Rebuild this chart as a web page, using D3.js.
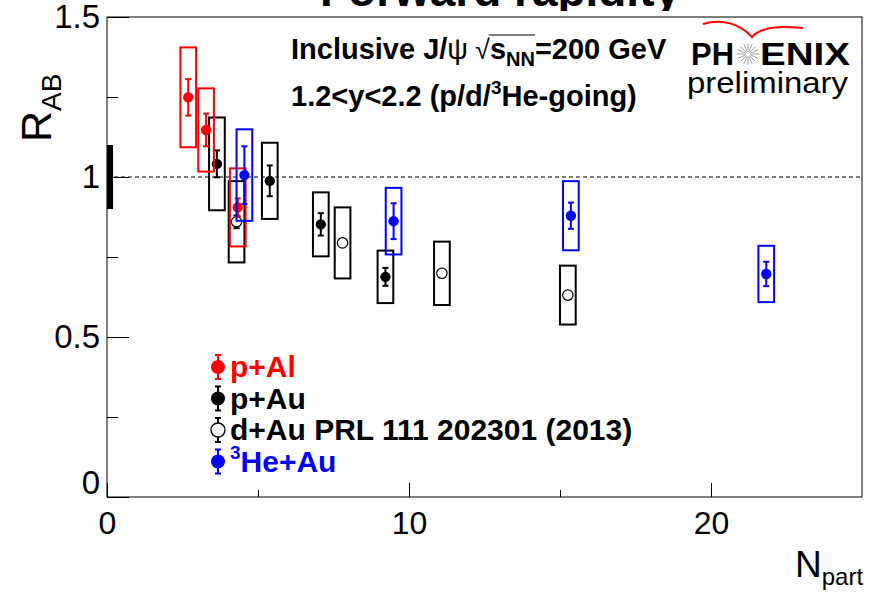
<!DOCTYPE html>
<html>
<head>
<meta charset="utf-8">
<script src="https://cdn.jsdelivr.net/npm/d3@7"></script>
<style>
  body { margin: 0; background: #fff; }
  svg { display: block; }
  text { font-family: "Liberation Sans", Arial, Helvetica, sans-serif; }
</style>
</head>
<body>
<svg id="chart" width="874" height="592"></svg>
<script>
// R_AB vs N_part, forward rapidity J/psi (PHENIX preliminary)

// p+Al
const pAlNpart = [2.69, 3.28, 4.33];
const pAlRab   = [1.249, 1.147, 0.905];
const pAlStat  = [0.057, 0.051, 0.028];
const pAlSys   = [0.156, 0.130, 0.122];

// p+Au
const pAuNpart = [3.64, 5.39, 7.08, 9.22];
const pAuRab   = [1.041, 0.988, 0.852, 0.688];
const pAuStat  = [0.042, 0.048, 0.035, 0.028];
const pAuSys   = [0.145, 0.119, 0.100, 0.082];

// d+Au PRL 111 202301 (2013)
const dAuNpart = [4.29, 7.80, 11.09, 15.26];
const dAuRab   = [0.860, 0.794, 0.699, 0.631];
const dAuStat  = [0.020, 0.010, 0.008, 0.008];
const dAuSys   = [0.127, 0.111, 0.099, 0.092];

// 3He+Au
const heAuNpart = [4.55, 9.49, 15.36, 21.83];
const heAuRab   = [1.006, 0.862, 0.879, 0.697];
const heAuStat  = [0.090, 0.056, 0.041, 0.038];
const heAuSys   = [0.143, 0.104, 0.108, 0.088];

// global uncertainty box at unity
const globalSys = 0.1;

const yMajor = [0, 0.5, 1, 1.5];
const yMinor = [0.25, 0.75, 1.25];
const xMajor = [0, 10, 20];
const xMinor = [5, 15];

const legendNames = ["p+Al", "p+Au", "d+Au PRL 111 202301 (2013)", "He+Au"];

const W = 874, H = 592;
const svg = d3.select("#chart");
svg.append("rect").attr("width", W).attr("height", H).attr("fill", "#fff");

const x = d3.scaleLinear().domain([0, 25]).range([107, 862]);
const y = d3.scaleLinear().domain([0, 1.5]).range([497, 17]);

// title, mostly cut off above the frame
svg.append("clipPath").attr("id", "topclip")
  .append("rect").attr("x", 0).attr("y", 0).attr("width", W).attr("height", 11);
svg.append("text")
  .attr("clip-path", "url(#topclip)")
  .attr("x", 320).attr("y", 6)
  .attr("font-size", 46).attr("font-weight", "bold")
  .attr("textLength", 360).attr("lengthAdjust", "spacingAndGlyphs")
  .text("Forward rapidity");

// axes (ROOT style: ticks point inward)
const gy = svg.append("g").attr("transform", `translate(${x(0)},0)`);
gy.call(d3.axisLeft(y).tickValues(yMajor).tickSize(-22).tickPadding(7)
  .tickFormat(d => d3.format("")(d)));
gy.append("g").call(d3.axisLeft(y).tickValues(yMinor).tickSize(-11).tickFormat(""));
gy.selectAll(".domain").remove();
gy.selectAll("text").attr("font-size", 33).attr("fill", "#000")
  .attr("font-family", "'Liberation Sans', Arial, sans-serif");
gy.selectAll(".tick").filter(d => d === 0).select("text").attr("dy", "-0.12em");
gy.selectAll("line").attr("stroke", "#000");

const gx = svg.append("g").attr("transform", `translate(0,${y(0)})`);
gx.call(d3.axisBottom(x).tickValues(xMajor).tickSize(-14).tickPadding(14));
gx.append("g").call(d3.axisBottom(x).tickValues(xMinor).tickSize(-7).tickFormat(""));
gx.selectAll(".domain").remove();
gx.selectAll("text").attr("font-size", 32).attr("fill", "#000")
  .attr("font-family", "'Liberation Sans', Arial, sans-serif");
gx.selectAll("line").attr("stroke", "#000");

// frame
svg.append("rect")
  .attr("x", x(0)).attr("y", y(1.5))
  .attr("width", x(25) - x(0)).attr("height", y(0) - y(1.5))
  .attr("fill", "none").attr("stroke", "#000").attr("stroke-width", 1);

// unity line
svg.append("line")
  .attr("x1", x(0)).attr("x2", x(25)).attr("y1", y(1)).attr("y2", y(1))
  .attr("stroke", "#000").attr("stroke-width", 1).attr("stroke-dasharray", "4,3");

// global uncertainty
svg.append("rect")
  .attr("x", x(0)).attr("width", x(0.2) - x(0))
  .attr("y", y(1 + globalSys)).attr("height", y(1 - globalSys) - y(1 + globalSys))
  .attr("fill", "#000");

// axis titles
const yt = svg.append("text").attr("transform", "translate(51,142) rotate(-90)");
yt.append("tspan").attr("font-size", 43).text("R");
yt.append("tspan").attr("font-size", 28).attr("dy", 10).text("AB");

const xt = svg.append("text").attr("x", 795).attr("y", 577);
xt.append("tspan").attr("font-size", 37).text("N");
xt.append("tspan").attr("font-size", 24).attr("dy", 8).text("part");

// data
const boxHalf = 0.26;
const plot = svg.append("g");

function drawSeries(npart, rab, stat, sys, color, open) {
  const rows = npart.map((n, i) => ({ n, r: rab[i], st: stat[i], sy: sys[i] }));
  const g = plot.append("g");
  g.selectAll("rect").data(rows).join("rect")
    .attr("x", d => x(d.n - boxHalf))
    .attr("width", d => x(d.n + boxHalf) - x(d.n - boxHalf))
    .attr("y", d => y(d.r + d.sy))
    .attr("height", d => y(d.r - d.sy) - y(d.r + d.sy))
    .attr("fill", "none").attr("stroke", color).attr("stroke-width", 2);
  g.selectAll("line.err").data(rows).join("line").attr("class", "err")
    .attr("x1", d => x(d.n)).attr("x2", d => x(d.n))
    .attr("y1", d => y(d.r + d.st)).attr("y2", d => y(d.r - d.st))
    .attr("stroke", open ? "#000" : color).attr("stroke-width", 2);
  ["hi", "lo"].forEach(k => {
    g.selectAll("line.cap" + k).data(rows).join("line").attr("class", "cap" + k)
      .attr("x1", d => x(d.n) - 3).attr("x2", d => x(d.n) + 3)
      .attr("y1", d => y(k === "hi" ? d.r + d.st : d.r - d.st))
      .attr("y2", d => y(k === "hi" ? d.r + d.st : d.r - d.st))
      .attr("stroke", open ? "#000" : color).attr("stroke-width", 2);
  });
  g.selectAll("circle").data(rows).join("circle")
    .attr("cx", d => x(d.n)).attr("cy", d => y(d.r)).attr("r", 5.2)
    .attr("fill", open ? "#fff" : color)
    .attr("stroke", open ? "#000" : "none").attr("stroke-width", 1.2);
}

drawSeries(dAuNpart, dAuRab, dAuStat, dAuSys, "#000", true);
drawSeries(pAuNpart, pAuRab, pAuStat, pAuSys, "#000", false);
drawSeries(pAlNpart, pAlRab, pAlStat, pAlSys, "#ff0000", false);
drawSeries(heAuNpart, heAuRab, heAuStat, heAuSys, "#0000ff", false);

// sequential text pieces (sub/superscripts)
function rich(parent, x0, y0, parts) {
  let cx = x0;
  const spans = [];
  parts.forEach(p => {
    const t = parent.append("text")
      .attr("x", cx).attr("y", y0 + (p.dy || 0))
      .attr("font-size", p.size).attr("font-weight", p.weight || "bold")
      .attr("fill", p.color || "#000")
      .text(p.t);
    if (p.family) t.attr("font-family", p.family);
    const w = t.node().getComputedTextLength();
    spans.push({ x: cx, w });
    cx += w + (p.gap || 0);
  });
  return spans;
}

const hdr = svg.append("g");
const l1 = rich(hdr, 291, 59, [
  { t: "Inclusive J/", size: 29 },
  { t: "\u03c8", size: 29, weight: "normal", family: "'DejaVu Serif', serif", gap: 7 },
  { t: "\u221a", size: 27, weight: "normal", family: "'DejaVu Sans', sans-serif" },
  { t: "s", size: 29 },
  { t: "NN", size: 20, dy: 7 },
  { t: "=200 GeV", size: 29 }
]);
hdr.append("line")
  .attr("x1", l1[2].x + l1[2].w - 1).attr("x2", l1[4].x + l1[4].w)
  .attr("y1", 35).attr("y2", 35).attr("stroke", "#000").attr("stroke-width", 1);

rich(hdr, 291, 106, [
  { t: "1.2<y<2.2 (p/d/", size: 29 },
  { t: "3", size: 19, dy: -12 },
  { t: "He-going)", size: 29 }
]);

// PHENIX logo
const logo = svg.append("g");
logo.append("text").attr("x", 691).attr("y", 65)
  .attr("font-size", 31).attr("font-weight", "bold")
  .attr("textLength", 43).attr("lengthAdjust", "spacingAndGlyphs").text("PH");
logo.append("text").attr("x", 760).attr("y", 65)
  .attr("font-size", 31).attr("font-weight", "bold")
  .attr("textLength", 90).attr("lengthAdjust", "spacingAndGlyphs").text("ENIX");
const star = logo.append("g").attr("transform", "translate(748,54)");
d3.range(16).forEach(i => {
  const a = i / 16 * Math.PI * 2;
  star.append("line")
    .attr("x1", Math.cos(a) * 2.5).attr("y1", Math.sin(a) * 2.5)
    .attr("x2", Math.cos(a) * 11).attr("y2", Math.sin(a) * 11)
    .attr("stroke", "#999").attr("stroke-width", 0.9);
});
logo.append("path")
  .attr("d", "M703,24 C722,18 740,24 752,37 C762,26 782,26 803,28")
  .attr("fill", "none").attr("stroke", "#ff0000").attr("stroke-width", 2);
logo.append("text").attr("x", 687).attr("y", 93)
  .attr("font-size", 29).attr("font-family", "'DejaVu Sans', sans-serif")
  .attr("textLength", 161).attr("lengthAdjust", "spacingAndGlyphs").text("preliminary");

// legend
const legColors = ["#ff0000", "#000", "#000", "#0000ff"];
const legOpen = [false, false, true, false];
const leg = svg.append("g");
legendNames.forEach((name, i) => {
  const cy = 367 + i * 31.5;
  const c = legColors[i];
  const lc = legOpen[i] ? "#000" : c;
  leg.append("line").attr("x1", 218).attr("x2", 218).attr("y1", cy - 12).attr("y2", cy + 12)
    .attr("stroke", lc).attr("stroke-width", 2);
  [cy - 12, cy + 12].forEach(yy => leg.append("line")
    .attr("x1", 215).attr("x2", 221).attr("y1", yy).attr("y2", yy)
    .attr("stroke", lc).attr("stroke-width", 2));
  leg.append("circle").attr("cx", 218).attr("cy", cy).attr("r", 7)
    .attr("fill", legOpen[i] ? "#fff" : c)
    .attr("stroke", legOpen[i] ? "#000" : "none").attr("stroke-width", 1.3);
  if (i === 3) {
    rich(leg, 230, cy + 10, [
      { t: "3", size: 19, dy: -13, color: c },
      { t: name, size: 30, color: c }
    ]);
  } else {
    rich(leg, 230, cy + 10, [{ t: name, size: 30, color: c }]);
  }
});
</script>
</body>
</html>
